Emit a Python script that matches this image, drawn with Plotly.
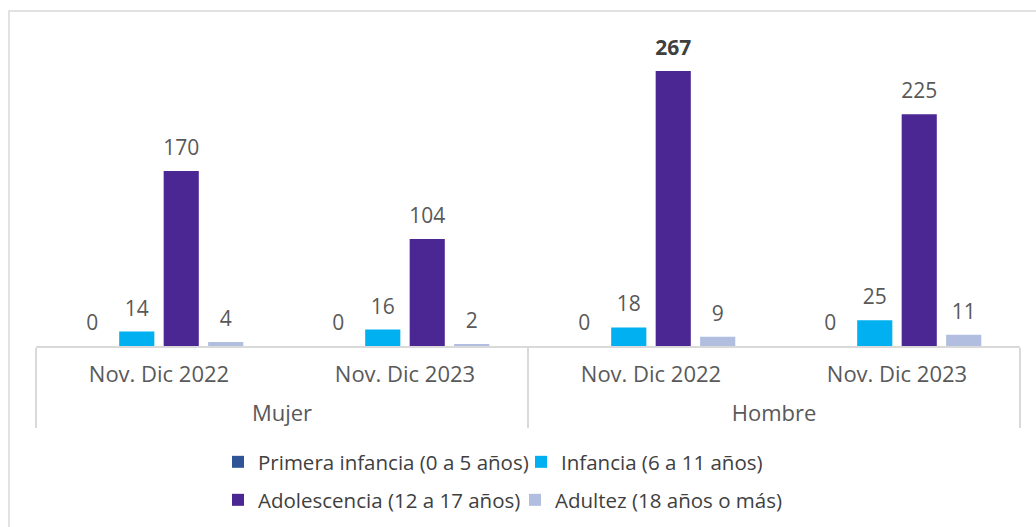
import plotly.graph_objects as go

# Categories: sex (outer level) and period (inner level)
sexes = ["Mujer", "Mujer", "Hombre", "Hombre"]
periods = ["Nov. Dic 2022", "Nov. Dic 2023", "Nov. Dic 2022", "Nov. Dic 2023"]

# Cases by age group
primera_infancia = [0, 0, 0, 0]
infancia = [14, 16, 18, 25]
adolescencia = [170, 104, 267, 225]
adultez = [4, 2, 9, 11]

series = [
    ("Primera infancia (0 a 5 años)", primera_infancia, "#2F5597", "legend"),
    ("Infancia (6 a 11 años)", infancia, "#00B0F0", "legend"),
    ("Adolescencia (12 a 17 años)", adolescencia, "#4A2792", "legend2"),
    ("Adultez (18 años o más)", adultez, "#B1BEE0", "legend2"),
]

FONT = "'Open Sans', sans-serif"
LABEL_GREY = "#595959"
DARK = "#404040"

# invisible spacer that pushes a label's box down a little
def spacer(px):
    return f"<span style='baseline-shift:-{px}px'>\u00a0</span>"

peak = max(adolescencia)

fig = go.Figure()
for name, vals, color, leg in series:
    templates = [
        spacer(7) + ("<b>%{y}</b>" if v == peak else "%{y}") + spacer(7)
        for v in vals
    ]
    colors = [DARK if v == peak else LABEL_GREY for v in vals]
    fig.add_trace(go.Bar(
        name=name,
        x=[sexes, [spacer(15) + p + spacer(15) for p in periods]],
        y=vals,
        marker=dict(color=color, line=dict(width=0)),
        texttemplate=templates,
        textposition="outside",
        constraintext="none",
        textfont=dict(family=FONT, size=21, color=colors),
        cliponaxis=False,
        legend=leg,
        hoverinfo="skip",
    ))

W, H = 1036, 527
plot_top, plot_bottom = 20, 346
px_per_unit = 275 / 267
ymax = (plot_bottom - plot_top) / px_per_unit

fig.update_layout(
    width=W,
    height=H,
    margin=dict(l=36, r=16, t=plot_top, b=H - plot_bottom),
    paper_bgcolor="white",
    plot_bgcolor="white",
    barmode="group",
    bargap=0.277,
    bargroupgap=0.21,
    font=dict(family=FONT, color=LABEL_GREY),
    xaxis=dict(
        type="multicategory",
        showline=True,
        linecolor="#D9D9D9",
        linewidth=1.5,
        showgrid=False,
        ticks="",
        ticklabelstandoff=8,
        tickfont=dict(family=FONT, size=22, color=LABEL_GREY),
        showdividers=True,
        dividercolor="#D9D9D9",
        dividerwidth=1.5,
    ),
    yaxis=dict(
        range=[0, ymax],
        visible=False,
        showgrid=False,
        zeroline=False,
    ),
    legend=dict(
        orientation="h",
        xref="container", yref="container",
        x=218 / W, y=1 - 462 / H,
        xanchor="left", yanchor="middle",
        font=dict(family=FONT, size=20.5, color=DARK),
        itemwidth=30,
        entrywidth=258,
        entrywidthmode="pixels",
        bgcolor="rgba(0,0,0,0)",
    ),
    legend2=dict(
        orientation="h",
        xref="container", yref="container",
        x=218 / W, y=1 - 500 / H,
        xanchor="left", yanchor="middle",
        font=dict(family=FONT, size=20.5, color=DARK),
        itemwidth=30,
        entrywidth=252,
        entrywidthmode="pixels",
        bgcolor="rgba(0,0,0,0)",
    ),
    shapes=[
        # light frame around the chart area (open to the right and bottom)
        dict(
            type="rect",
            xref="paper", yref="paper",
            x0=(9 - 36) / (W - 52), x1=1.2,
            y0=-2, y1=1 + (plot_top - 11) / (plot_bottom - plot_top),
            line=dict(color="#D9D9D9", width=1.5),
            fillcolor="rgba(0,0,0,0)",
            layer="below",
        )
    ],
)

fig.write_html("out.html")
